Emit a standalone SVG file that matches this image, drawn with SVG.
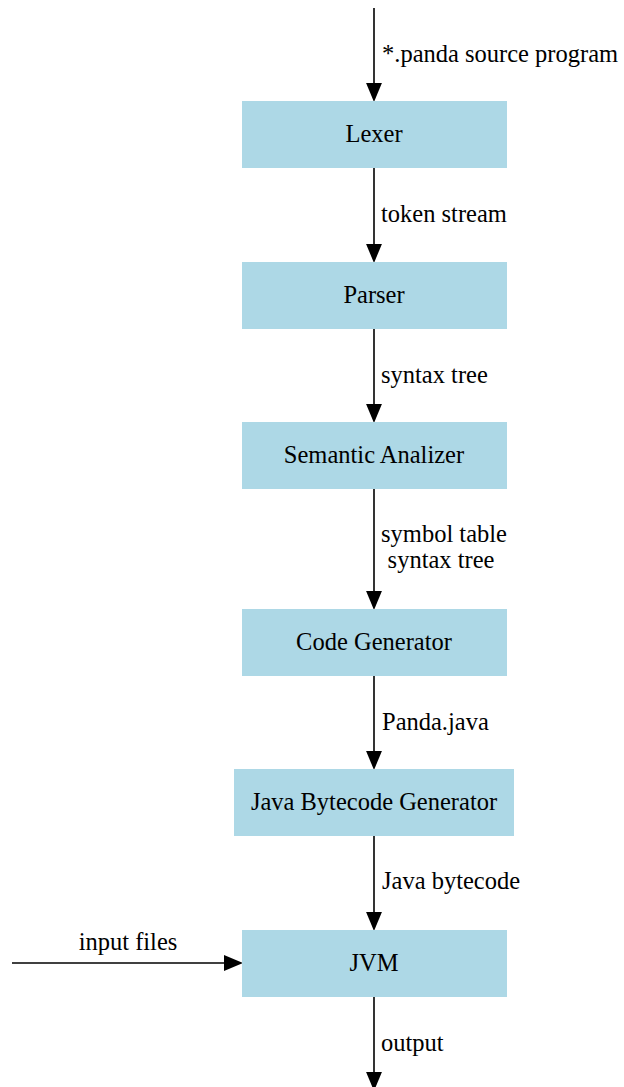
<svg xmlns="http://www.w3.org/2000/svg" width="624" height="1087" viewBox="0 0 624 1087">
<style>
.box{fill:#add8e6;stroke:none}
.t{font-family:'Liberation Serif','Times New Roman',Times,'DejaVu Serif',serif;font-size:24.5px;fill:#000}
.c{text-anchor:middle}
.e{stroke:#000;stroke-width:1.6;fill:none}
</style>
<defs>
<marker id="ah" markerUnits="userSpaceOnUse" markerWidth="19" markerHeight="16" refX="0" refY="7.5" orient="auto" viewBox="0 0 18 15">
<path d="M0,0 L18,7.5 L0,15 z" fill="#000"/>
</marker>
</defs>
<rect width="624" height="1087" fill="#fff"/>
<g id="connectors">
<line class="e" x1="374" y1="8" x2="374" y2="83" marker-end="url(#ah)"/>
<line class="e" x1="374" y1="168" x2="374" y2="244" marker-end="url(#ah)"/>
<line class="e" x1="374" y1="329" x2="374" y2="404" marker-end="url(#ah)"/>
<line class="e" x1="374" y1="489" x2="374" y2="591" marker-end="url(#ah)"/>
<line class="e" x1="374" y1="676" x2="374" y2="751" marker-end="url(#ah)"/>
<line class="e" x1="374" y1="836" x2="374" y2="912" marker-end="url(#ah)"/>
<line class="e" x1="12" y1="963" x2="224" y2="963" marker-end="url(#ah)"/>
<line class="e" x1="374" y1="997" x2="374" y2="1072" marker-end="url(#ah)"/>
<text class="t" x="382" y="62">*.panda source program</text>
<text class="t" x="381" y="222">token stream</text>
<text class="t" x="381" y="383">syntax tree</text>
<text class="t c" x="444" y="542">symbol table</text>
<text class="t c" x="441" y="568">syntax tree</text>
<text class="t" x="382" y="730">Panda.java</text>
<text class="t" x="382" y="889">Java bytecode</text>
<text class="t c" x="128" y="950">input files</text>
<text class="t" x="381" y="1051">output</text>
</g>
<g id="lexer"><rect class="box" x="242" y="101" width="265" height="67"/><text class="t c" x="374" y="142">Lexer</text></g>
<g id="parser"><rect class="box" x="242" y="262" width="265" height="67"/><text class="t c" x="374" y="303">Parser</text></g>
<g id="semantic"><rect class="box" x="242" y="422" width="265" height="67"/><text class="t c" x="374" y="463">Semantic Analizer</text></g>
<g id="codegen"><rect class="box" x="242" y="609" width="265" height="67"/><text class="t c" x="374" y="650">Code Generator</text></g>
<g id="bytecodegen"><rect class="box" x="234" y="769" width="280" height="67"/><text class="t c" x="374" y="810">Java Bytecode Generator</text></g>
<g id="jvm"><rect class="box" x="242" y="930" width="265" height="67"/><text class="t c" x="374" y="971">JVM</text></g>
</svg>
